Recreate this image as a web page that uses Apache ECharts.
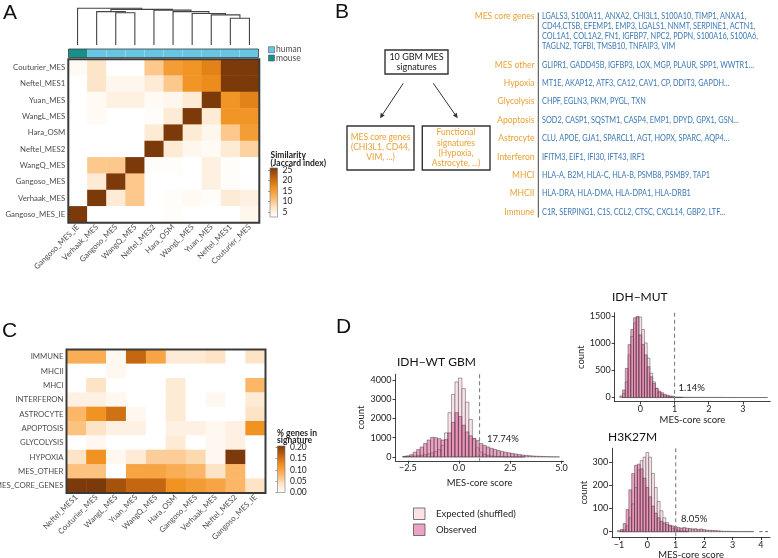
<!DOCTYPE html>
<html lang="en">
<head>
<meta charset="UTF-8">
<title>MES signatures</title>
<style>html,body{margin:0;padding:0;background:#fff}#chart-box{width:778px;height:558px}</style>
</head>
<body>
<div id="chart-box"></div>
<script src="https://cdn.jsdelivr.net/npm/echarts@6/dist/echarts.min.js"></script>
<script>
// ---------- panel A: Jaccard similarity ----------
var simCols = ['Gangoso_MES_IE','Verhaak_MES','Gangoso_MES','WangQ_MES','Neftel_MES2','Hara_OSM','WangL_MES','Yuan_MES','Neftel_MES1','Couturier_MES'];
var simRows = ['Couturier_MES','Neftel_MES1','Yuan_MES','WangL_MES','Hara_OSM','Neftel_MES2','WangQ_MES','Gangoso_MES','Verhaak_MES','Gangoso_MES_IE'];
var simValues = [
  [3.5, 7, 2, 2, 10, 15, 16, 18, 27, 27],
  [1, 7, 4, 4, 6, 10, 16, 17, 27, 27],
  [1, 3.5, 5, 5, 3.5, 4, 6, 27, 16, 18],
  [2, 3.5, 1, 1, 3, 6, 27, 6, 16, 16],
  [2.5, 2.5, 1, 2.5, 6, 27, 6, 4, 10, 15],
  [1, 1, 1, 2.5, 27, 6, 4, 3.5, 6, 9],
  [1, 10, 10, 27, 3, 3, 2, 5, 3, 1.5],
  [1, 6, 27, 10, 1, 1, 1, 5, 3, 1],
  [1, 27, 6, 10, 1, 3, 3.5, 3, 6, 5],
  [27, 1, 1, 1, 1, 3, 2.5, 1, 1, 4]
];
var species = ['mouse','human','human','human','human','human','human','human','human','human'];
// hclust style merges (negative = leaf, positive = earlier merge) and heights
var dendroMerges = [[-9,-10],[-8,1],[-7,2],[-3,-4],[-6,3],[-2,4],[-5,5],[6,7],[-1,8]];
var dendroHeights = [0.73, 0.82, 0.86, 0.88, 0.91, 0.91, 0.95, 0.97, 1.0];
var simTicks = [5, 10, 15, 20, 25];

// ---------- panel B ----------
var bLabels = ['MES core genes','MES other','Hypoxia','Glycolysis','Apoptosis','Astrocyte','Interferon','MHCI','MHCII','Immune'];
var bGenes = [
  ['LGALS3, S100A11, ANXA2, CHI3L1, S100A10, TIMP1, ANXA1,',
   'CD44,CTSB, EFEMP1, EMP3, LGALS1, NNMT, SERPINE1, ACTN1,',
   'COL1A1, COL1A2, FN1, IGFBP7, NPC2, PDPN, S100A16, S100A6,',
   'TAGLN2, TGFBI, TMSB10, TNFAIP3, VIM'],
  ['GLIPR1, GADD45B, IGFBP3, LOX, MGP, PLAUR, SPP1, WWTR1\u2026'],
  ['MT1E, AKAP12, ATF3, CA12, CAV1, CP, DDIT3, GAPDH\u2026'],
  ['CHPF, EGLN3, PKM, PYGL, TXN'],
  ['SOD2, CASP1, SQSTM1, CASP4, EMP1, DPYD, GPX1, GSN\u2026'],
  ['CLU, APOE, GJA1, SPARCL1, AGT, HOPX, SPARC, AQP4\u2026'],
  ['IFITM3, EIF1, IFI30, IFT43, IRF1'],
  ['HLA-A, B2M, HLA-C, HLA-B, PSMB8, PSMB9, TAP1'],
  ['HLA-DRA, HLA-DMA, HLA-DPA1, HLA-DRB1'],
  ['C1R, SERPING1, C1S, CCL2, CTSC, CXCL14, GBP2, LTF\u2026']
];

// ---------- panel C: % genes in signature ----------
var sigRows = ['IMMUNE','MHCII','MHCI','INTERFERON','ASTROCYTE','APOPTOSIS','GLYCOLYSIS','HYPOXIA','MES_OTHER','MES_CORE_GENES'];
var sigCols = ['Neftel_MES1','Couturier_MES','WangL_MES','Yuan_MES','WangQ_MES','Hara_OSM','Gangoso_MES','Verhaak_MES','Neftel_MES2','Gangoso_MES_IE'];
var sigValues = [
  [0.09, 0.09, 0.01, 0.16, 0.10, 0.03, 0.03, 0.04, 0, 0.04],
  [0, 0, 0.01, 0, 0, 0, 0, 0, 0, 0],
  [0, 0.04, 0, 0, 0, 0.03, 0, 0, 0, 0.08],
  [0.02, 0.02, 0.01, 0, 0, 0.03, 0, 0.01, 0, 0.03],
  [0.08, 0.12, 0.15, 0.01, 0, 0.03, 0, 0, 0, 0.04],
  [0.07, 0.04, 0.02, 0.02, 0, 0.02, 0.02, 0.01, 0.02, 0.12],
  [0, 0.01, 0, 0, 0, 0.03, 0, 0.01, 0.02, 0],
  [0.04, 0.12, 0.01, 0.03, 0.06, 0.06, 0.05, 0.01, 0.21, 0],
  [0.07, 0.07, 0, 0.10, 0.10, 0.09, 0.08, 0.04, 0.08, 0],
  [0.21, 0.21, 0.18, 0.16, 0.16, 0.12, 0.11, 0.10, 0.08, 0.04]
];
var sigTicks = [0, 0.05, 0.10, 0.15, 0.20];

// ---------- panel D: MES-core score histograms ----------
var wtBinStart = -2.75, wtBinWidth = 0.17;
var wtExpected = [10,20,30,45,65,90,120,160,210,280,380,600,1250,2300,3250,3900,4100,3550,2850,1950,950,480,250,140,80,50,30,20,12,8,5,3,2,1,1,0,0,0,0,0,0,0,0,0,0];
var wtObserved = [30,60,120,250,380,520,700,880,1020,1000,950,880,900,1250,1800,2300,2100,1650,1300,1100,950,850,700,600,520,450,390,335,290,250,215,185,155,125,100,80,65,50,40,30,22,16,12,8,5];
var mutBinStart = -0.6, mutBinWidth = 0.08;
var mutExpected = [0,75,290,790,1130,1380,1490,1490,1260,1010,730,450,290,170,90,55,30,20,10,6,3,2,1,0,0,0,0,0,0,0,0,0,0,0,0,0,0,0,0,0,0,0,0,0,0,0,0,0,0,0,0,0,0,0];
var mutObserved = [30,140,540,980,1260,1475,1500,1160,980,790,570,385,260,170,120,90,60,45,30,25,10,9,8,7,6,6,5,5,5,4,4,4,3,3,3,3,3,3,2,2,2,2,2,2,2,1,1,1,1,1,1,1,1,1];
var h3BinStart = -1.05, h3BinWidth = 0.1;
var h3Expected = [0,3,8,25,60,120,190,265,305,320,340,320,250,190,130,90,60,40,25,15,9,5,3,2,1,0,0,0,0,0,0,0,0,0,0,0,0,0,0,0,0,0,0,0,0,0,0,0,0,0,0,0,0];
var h3Observed = [5,10,35,95,180,250,285,290,270,230,190,150,110,80,60,45,38,32,28,25,22,18,16,18,15,14,12,13,10,12,9,7,6,5,5,4,3,2,2,2,1,1,1,1,1,1,1,1,0,0,1,0,1];
var mesThreshold = 1;
var pctAbove = ['17.74%', '1.14%', '8.05%'];

// ---------- styling ----------
var FONT = 'Lato';
var heatPalette = ['#ffffff','#fde3c6','#fbb462','#f0901e','#c0620f','#7c3a0a'];
var orange = '#eaa133', blue = '#3b78b5', axisGrey = '#4d4d4d';
var simRange = [2.6, 26], sigRange = [0, 0.205];

var G = {
  dendro: {left: 68, top: 8.3, width: 191, height: 36.7},
  annot:  {left: 68.5, top: 49, width: 190, height: 8.5},
  heatA:  {left: 68.3, top: 59.3, width: 191, height: 163.4},
  cbarA:  {left: 270, top: 168, width: 7.5, height: 49},
  heatC:  {left: 66.5, top: 349.5, width: 199, height: 143.5},
  cbarC:  {left: 277.5, top: 446, width: 7.5, height: 46.5},
  d1: {left: 395.5, top: 374.2, width: 168.1, height: 86.6},
  d2: {left: 614.7, top: 312.7, width: 155.6, height: 88.9},
  d3: {left: 612.1, top: 448.3, width: 157.9, height: 88.8}
};
var gridOrder = ['dendro','annot','heatA','cbarA','heatC','cbarC','d1','d2','d3'];
var grids = gridOrder.map(function (k) {
  return Object.assign({outerBoundsMode: 'none', containLabel: false}, G[k]);
});
function gi(k) { return gridOrder.indexOf(k); }

function fmtMinus(d) {
  return function (v) { return (d == null ? String(v) : v.toFixed(d)).replace('-', '\u2212'); };
}
function hiddenAxis(type, k, extra) {
  return Object.assign({type: type, gridIndex: gi(k), show: false}, extra || {});
}
function histAxis(k, min, max, ticks, dec, name, gap, isY) {
  return {
    type: 'value', gridIndex: gi(k), min: min, max: max,
    axisLine: {show: true, onZero: false, lineStyle: {color: '#111', width: 0.8}},
    axisTick: {show: true, length: 3, customValues: ticks, lineStyle: {color: '#111', width: 0.8}},
    axisLabel: {customValues: ticks, formatter: fmtMinus(dec), fontSize: 9, color: '#222', fontFamily: FONT, margin: isY ? 4 : 3},
    splitLine: {show: false},
    name: name, nameLocation: 'middle', nameGap: gap,
    nameTextStyle: {fontSize: 9.5, color: '#222', fontFamily: FONT}
  };
}
function heatCatAxis(k, data, isY) {
  return {
    type: 'category', gridIndex: gi(k), data: data, inverse: !!isY,
    axisLine: {show: false}, axisTick: {show: false}, splitLine: {show: false},
    axisLabel: {interval: 0, rotate: isY ? 0 : 45, fontSize: 7.8, color: axisGrey, fontFamily: FONT, margin: 3}
  };
}
function cbarAxis(k, range, ticks, dec) {
  return {
    type: 'value', gridIndex: gi(k), min: range[0], max: range[1], position: 'right',
    axisLine: {show: false}, splitLine: {show: false},
    axisTick: {show: true, inside: true, length: 2, customValues: ticks, lineStyle: {color: '#555', width: 0.6}},
    axisLabel: {customValues: ticks, formatter: function (v) { return dec ? v.toFixed(dec) : String(v); },
                fontSize: 8.5, color: '#222', fontFamily: FONT, margin: 5}
  };
}

var xAxes = [
  hiddenAxis('value', 'dendro', {min: 0, max: 10}),
  hiddenAxis('category', 'annot', {data: simCols}),
  heatCatAxis('heatA', simCols, false),
  hiddenAxis('value', 'cbarA', {min: 0, max: 1}),
  heatCatAxis('heatC', sigCols, false),
  hiddenAxis('value', 'cbarC', {min: 0, max: 1}),
  histAxis('d1', -3.1, 5.1, [-2.5, 0, 2.5, 5], 1, 'MES-core score', 17),
  histAxis('d2', -0.75, 3.8, [0, 1, 2, 3], null, 'MES-core score', 9),
  histAxis('d3', -1.24, 4.32, [-1, 0, 1, 2, 3, 4], null, 'MES-core score', 13)
];
var yAxes = [
  hiddenAxis('value', 'dendro', {min: 0, max: 1}),
  hiddenAxis('category', 'annot', {data: ['species']}),
  heatCatAxis('heatA', simRows, true),
  cbarAxis('cbarA', simRange, simTicks, 0),
  heatCatAxis('heatC', sigRows, true),
  cbarAxis('cbarC', sigRange, sigTicks, 2),
  histAxis('d1', -200, 4300, [0, 1000, 2000, 3000, 4000], null, 'count', 30, true),
  histAxis('d2', -75, 1570, [0, 500, 1000, 1500], null, 'count', 29, true),
  histAxis('d3', -23, 358, [0, 100, 200, 300], null, 'count', 23, true)
];

// dendrogram segments from the merge table
var dNodes = [];
var dendroData = dendroMerges.map(function (m, i) {
  var kids = m.map(function (c) { return c < 0 ? {x: -c - 0.5, h: 0} : dNodes[c - 1]; });
  dNodes.push({x: (kids[0].x + kids[1].x) / 2, h: dendroHeights[i]});
  return [kids[0].x, kids[1].x, dendroHeights[i], kids[0].h, kids[1].h];
});

function heatData(values) {
  var out = [];
  values.forEach(function (row, r) { row.forEach(function (v, c) { out.push([c, r, v]); }); });
  return out;
}
function histData(start, width, counts) {
  return counts.map(function (c, i) { return [start + i * width, start + (i + 1) * width, c]; });
}
function histSeries(k, start, width, counts, fill) {
  return {
    type: 'custom', xAxisIndex: gi(k), yAxisIndex: gi(k), data: histData(start, width, counts),
    renderItem: function (params, api) {
      if (api.value(2) <= 0) return null;
      var p0 = api.coord([api.value(0), api.value(2)]);
      var p1 = api.coord([api.value(1), 0]);
      return {type: 'rect', shape: {x: p0[0], y: p0[1], width: p1[0] - p0[0], height: p1[1] - p0[1]},
              style: {fill: fill, stroke: '#3a3a3a', lineWidth: 0.45}};
    }
  };
}
function vlineSeries(k) {
  return {
    type: 'custom', xAxisIndex: gi(k), yAxisIndex: gi(k), data: [[mesThreshold]], z: 5,
    renderItem: function (params, api) {
      var p = api.coord([api.value(0), 0]);
      var cs = params.coordSys;
      return {type: 'line', shape: {x1: p[0], y1: cs.y, x2: p[0], y2: cs.y + cs.height},
              style: {stroke: '#808080', lineWidth: 1.1, lineDash: [4, 3]}};
    }
  };
}
function cbarSeries(k, range) {
  var stops = heatPalette.map(function (c, i) { return {offset: 1 - i / (heatPalette.length - 1), color: c}; }).reverse();
  return {
    type: 'custom', xAxisIndex: gi(k), yAxisIndex: gi(k), data: [[0, 1, range[0], range[1]]],
    renderItem: function (params, api) {
      var p0 = api.coord([api.value(0), api.value(3)]);
      var p1 = api.coord([api.value(1), api.value(2)]);
      return {type: 'rect', shape: {x: p0[0], y: p0[1], width: p1[0] - p0[0], height: p1[1] - p0[1]},
              style: {fill: new echarts.graphic.LinearGradient(0, 0, 0, 1, stops), stroke: '#777', lineWidth: 0.6}};
    }
  };
}

var series = [
  {
    type: 'custom', xAxisIndex: gi('dendro'), yAxisIndex: gi('dendro'), data: dendroData,
    renderItem: function (params, api) {
      var a = api.coord([api.value(0), api.value(3)]);
      var b = api.coord([api.value(0), api.value(2)]);
      var c = api.coord([api.value(1), api.value(2)]);
      var d = api.coord([api.value(1), api.value(4)]);
      return {type: 'polyline', shape: {points: [a, b, c, d]}, style: {stroke: '#444', lineWidth: 1.1, fill: null}};
    }
  },
  {
    type: 'custom', xAxisIndex: gi('annot'), yAxisIndex: gi('annot'),
    data: species.map(function (s, i) { return [i, 0, s]; }),
    renderItem: function (params, api) {
      var p = api.coord([api.value(0), 0]);
      var s = api.size([1, 1]);
      var col = species[params.dataIndex] === 'mouse' ? '#14918a' : '#66c6e3';
      return {type: 'rect', shape: {x: p[0] - s[0] / 2, y: p[1] - s[1] / 2, width: s[0], height: s[1]}, style: {fill: col}};
    }
  },
  {type: 'heatmap', xAxisIndex: gi('heatA'), yAxisIndex: gi('heatA'), data: heatData(simValues), itemStyle: {borderWidth: 0}},
  cbarSeries('cbarA', simRange),
  {type: 'heatmap', xAxisIndex: gi('heatC'), yAxisIndex: gi('heatC'), data: heatData(sigValues), itemStyle: {borderWidth: 0}},
  cbarSeries('cbarC', sigRange),
  histSeries('d1', wtBinStart, wtBinWidth, wtExpected, '#fbe2e9'),
  histSeries('d1', wtBinStart, wtBinWidth, wtObserved, 'rgba(215,70,135,0.5)'),
  vlineSeries('d1'),
  histSeries('d2', mutBinStart, mutBinWidth, mutExpected, '#fbe2e9'),
  histSeries('d2', mutBinStart, mutBinWidth, mutObserved, 'rgba(215,70,135,0.5)'),
  vlineSeries('d2'),
  histSeries('d3', h3BinStart, h3BinWidth, h3Expected, '#fbe2e9'),
  histSeries('d3', h3BinStart, h3BinWidth, h3Observed, 'rgba(215,70,135,0.5)'),
  vlineSeries('d3')
];

// ---------- annotations ----------
function txt(x, y, s, size, color, align, weight, sx) {
  return {type: 'text', x: x, y: y, z: 50, scaleX: sx || 1, style: {text: s, fill: color || '#222',
    font: (weight || 'normal') + ' ' + size + 'px ' + FONT, textAlign: align || 'left', textVerticalAlign: 'middle'}};
}
function box(x, y, w, h, fill, stroke, lw) {
  return {type: 'rect', z: 40, shape: {x: x, y: y, width: w, height: h}, style: {fill: fill || 'none', stroke: stroke || '#333', lineWidth: lw || 1}};
}
function arrow(x1, y1, x2, y2) {
  var ang = Math.atan2(y2 - y1, x2 - x1), L = 5, W = 2.4;
  var bx = x2 - L * Math.cos(ang), by = y2 - L * Math.sin(ang);
  return [
    {type: 'line', z: 40, shape: {x1: x1, y1: y1, x2: bx, y2: by}, style: {stroke: '#333', lineWidth: 1}},
    {type: 'polygon', z: 40, shape: {points: [[x2, y2], [bx - W * Math.sin(ang), by + W * Math.cos(ang)], [bx + W * Math.sin(ang), by - W * Math.cos(ang)]]}, style: {fill: '#333'}}
  ];
}
var LETTER = 'Liberation Sans';
function letter(x, y, s) {
  return {type: 'text', x: x, y: y, z: 50, style: {text: s, fill: '#111', font: 'normal 21px ' + LETTER, textVerticalAlign: 'top'}};
}

var gfx = [
  letter(3, 3, 'A'), letter(335, 2, 'B'), letter(2, 321, 'C'), letter(336, 317, 'D'),
  // panel A frames and legends
  box(G.heatA.left, G.heatA.top, G.heatA.width, G.heatA.height, 'none', '#3a3a3a', 2),
  box(G.annot.left, G.annot.top, G.annot.width, G.annot.height, 'none', '#3a3a3a', 0.8),
  box(268.5, 46.7, 6, 6, '#66c6e3', '#555', 0.6), txt(276, 49.7, 'human', 8.5, axisGrey),
  box(268.5, 55, 6, 6, '#14918a', '#555', 0.6), txt(276, 58, 'mouse', 8.5, axisGrey),
  txt(270.5, 155, 'Similarity', 8.5, '#222', 'left', 'bold'),
  txt(270.5, 163.3, '(Jaccard index)', 8.5, '#222', 'left', 'bold'),
  // panel C frame and legend
  box(G.heatC.left, G.heatC.top, G.heatC.width, G.heatC.height, 'none', '#3a3a3a', 2),
  txt(277, 433, '% genes in', 8.5, '#222', 'left', 'bold'),
  txt(277, 440.5, 'signature', 8.5, '#222', 'left', 'bold'),
  // panel B diagram
  box(385, 50, 63, 24, 'none', '#333', 1.4),
  txt(416.5, 57.5, '10 GBM MES', 9, '#222', 'center'),
  txt(416.5, 67.5, 'signatures', 9, '#222', 'center'),
  box(347, 126, 67, 44, 'none', '#333', 1.4),
  box(422.3, 126, 67.7, 44, 'none', '#333', 1.4),
  txt(380.5, 137.3, 'MES core genes', 8.5, orange, 'center'),
  txt(380.5, 147.5, '(CHI3L1, CD44,', 8.5, orange, 'center'),
  txt(380.5, 157.7, 'VIM, ...)', 8.5, orange, 'center'),
  txt(456, 132.7, 'Functional', 8.5, orange, 'center'),
  txt(456, 142.9, 'signatures', 8.5, orange, 'center'),
  txt(456, 153.1, '(Hypoxia,', 8.5, orange, 'center'),
  txt(456, 163.3, 'Astrocyte, ...)', 8.5, orange, 'center'),
  {type: 'line', z: 40, shape: {x1: 538.3, y1: 12.5, x2: 538.3, y2: 217.5}, style: {stroke: '#444', lineWidth: 1}},
  // panel D texts
  txt(397, 362, 'IDH\u2212WT GBM', 12, '#111'),
  txt(612, 297, 'IDH\u2212MUT', 12, '#111'),
  txt(608, 437, 'H3K27M', 12, '#111'),
  txt(487, 438.5, pctAbove[0], 9.5, '#222'),
  txt(678.5, 387.5, pctAbove[1], 9.5, '#222'),
  txt(681, 518.5, pctAbove[2], 9.5, '#222'),
  box(413.5, 508, 11.5, 11.5, '#fbe2e9', '#444', 0.7),
  box(413.5, 524, 11.5, 11.5, '#eba2c3', '#444', 0.7),
  txt(436, 514, 'Expected (shuffled)', 9.5, '#222'),
  txt(436, 530, 'Observed', 9.5, '#222')
].concat(arrow(403.3, 83.3, 380, 118.3), arrow(433.3, 83.3, 457.7, 118.3));

// panel B gene lists
var rowY = 16.7;
bLabels.forEach(function (lab, i) {
  var y = i === 0 ? rowY : 65 + 18.37 * (i - 1);
  gfx.push(txt(534.5, y, lab, 8.5, orange, 'right'));
  bGenes[i].forEach(function (line, j) { gfx.push(txt(542, y + 10 * j, line, 8.5, blue, 'left', 'normal', 0.86)); });
});

var option = {
  animation: false,
  backgroundColor: '#fff',
  textStyle: {fontFamily: FONT},
  grid: grids,
  xAxis: xAxes,
  yAxis: yAxes,
  visualMap: [
    {type: 'continuous', show: false, seriesIndex: 2, min: simRange[0], max: simRange[1], inRange: {color: heatPalette}},
    {type: 'continuous', show: false, seriesIndex: 4, min: sigRange[0], max: sigRange[1], inRange: {color: heatPalette}}
  ],
  series: series,
  graphic: {elements: gfx}
};

var chart = echarts.init(document.getElementById('chart-box'));
chart.setOption(option);
</script>
</body>
</html>
